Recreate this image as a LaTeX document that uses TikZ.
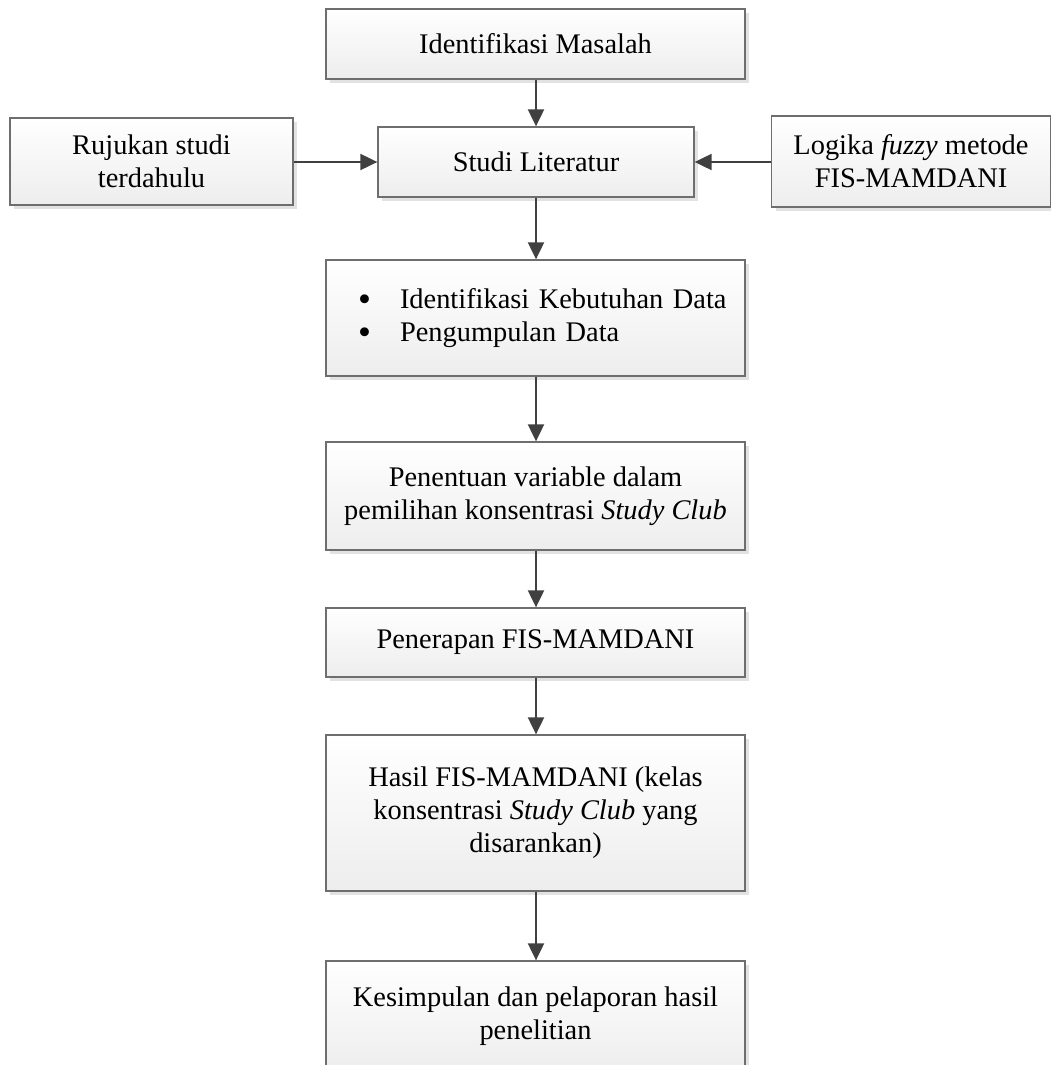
\documentclass[tikz,border=0pt]{standalone}
\usepackage{fontspec}
\setmainfont{Liberation Serif}
\usetikzlibrary{arrows.meta,shadows}
\definecolor{boxline}{HTML}{6E6E6E}
\definecolor{arrowcol}{HTML}{404040}
\newcommand{\flowbullet}{\makebox[42pt][l]{\smash{\raisebox{-3pt}{\scalebox{1.3}{\textbullet}}}}}
\tikzset{
  flowbox/.style={draw=boxline, line width=1.3pt, rectangle, top color=white, bottom color=gray!14,
    drop shadow={shadow xshift=4pt, shadow yshift=-4pt, fill=gray!45, opacity=0.5},
    align=center, inner sep=0pt, font=\fontsize{28.4}{33}\selectfont},
  flowarrow/.style={draw=arrowcol, line width=2pt, -{Triangle[length=17pt,width=16pt]}}
}
\begin{document}
\begin{tikzpicture}[x=1pt,y=-1pt]
\clip (0,0) rectangle (1051,1065);
\useasboundingbox (0,0) rectangle (1051,1065);
\node[flowbox, minimum width=419pt, minimum height=70pt] (b1) at (535.5,44) {Identifikasi Masalah};
\node[flowbox, minimum width=283pt, minimum height=87pt] (left) at (151.5,161.5) {Rujukan studi\\terdahulu};
\node[flowbox, minimum width=316pt, minimum height=70pt] (studi) at (536,162) {Studi Literatur};
\node[flowbox, minimum width=279pt, minimum height=91pt] (right) at (911,161.5) {Logika \textit{fuzzy} metode\\FIS-MAMDANI};
\node[flowbox, minimum width=419pt, minimum height=116pt, text width=389pt, inner xsep=15pt, align=left] (b3) at (535.5,318)
  {\hspace*{17pt}\flowbullet Identifikasi Kebutuhan Data\\\hspace*{17pt}\flowbullet Pengumpulan Data};
\node[flowbox, minimum width=419pt, minimum height=108pt] (b4) at (535.5,496) {Penentuan variable dalam\\pemilihan konsentrasi \textit{Study Club}};
\node[flowbox, minimum width=419pt, minimum height=69pt] (b5) at (535.5,642.5) {Penerapan FIS-MAMDANI};
\node[flowbox, minimum width=419pt, minimum height=156pt] (b6) at (535.5,813) {Hasil FIS-MAMDANI (kelas\\konsentrasi \textit{Study Club} yang\\disarankan)};
\node[flowbox, minimum width=419pt, minimum height=110pt] (b7) at (535.5,1016) {Kesimpulan dan pelaporan hasil\\penelitian};
\draw[flowarrow] (b1.south -| studi.north) -- (studi.north);
\draw[flowarrow] (left.east |- studi.west) -- (studi.west);
\draw[flowarrow] (right.west |- studi.east) -- (studi.east);
\draw[flowarrow] (studi.south) -- (studi.south |- b3.north);
\draw[flowarrow] (b3.south -| studi.south) -- (studi.south |- b4.north);
\draw[flowarrow] (b4.south -| studi.south) -- (studi.south |- b5.north);
\draw[flowarrow] (b5.south -| studi.south) -- (studi.south |- b6.north);
\draw[flowarrow] (b6.south -| studi.south) -- (studi.south |- b7.north);
\end{tikzpicture}
\end{document}
